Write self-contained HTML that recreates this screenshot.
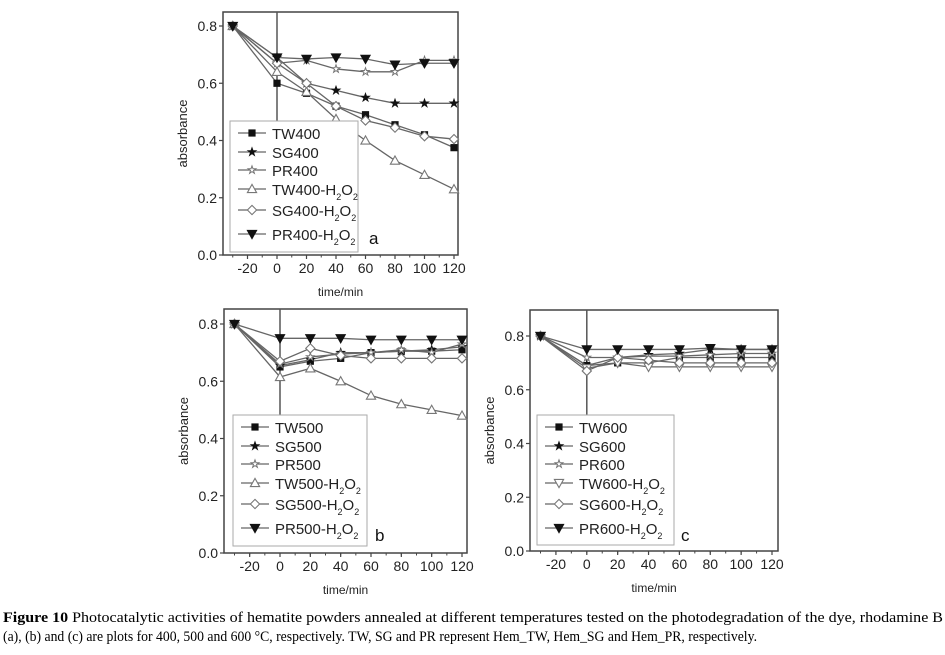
<!DOCTYPE html>
<html><head><meta charset="utf-8"><style>
body{margin:0;background:#fff;width:945px;height:655px;overflow:hidden}
svg{display:block}
.sans{font-family:"Liberation Sans",Arial,sans-serif}
.serif{font-family:"Liberation Serif",serif}
</style></head><body>
<svg id="fig" width="945" height="655" viewBox="0 0 945 655" xmlns="http://www.w3.org/2000/svg">
<g id="plots" class="sans"></g>
<text class="serif" x="3" y="622" font-size="15" textLength="940" lengthAdjust="spacingAndGlyphs"><tspan font-weight="bold">Figure 10</tspan> Photocatalytic activities of hematite powders annealed at different temperatures tested on the photodegradation of the dye, rhodamine B</text>
<text class="serif" x="3" y="641" font-size="15" textLength="754" lengthAdjust="spacingAndGlyphs">(a), (b) and (c) are plots for 400, 500 and 600 °C, respectively. TW, SG and PR represent Hem_TW, Hem_SG and Hem_PR, respectively.</text>
</svg>
<script>
const times = [-30, 0, 20, 40, 60, 80, 100, 120];
const xTicks = [-20, 0, 20, 40, 60, 80, 100, 120];
const yTicksAB = [0.0, 0.2, 0.4, 0.6, 0.8];
const markersA = ['sq', 'star', 'ostar', 'tri', 'dia', 'dtri'];
const markersC = ['sq', 'star', 'ostar', 'odtri', 'dia', 'dtri'];
const namesA = ['TW400', 'SG400', 'PR400', 'TW400-H2O2', 'SG400-H2O2', 'PR400-H2O2'];
const namesB = ['TW500', 'SG500', 'PR500', 'TW500-H2O2', 'SG500-H2O2', 'PR500-H2O2'];
const namesC = ['TW600', 'SG600', 'PR600', 'TW600-H2O2', 'SG600-H2O2', 'PR600-H2O2'];
const a_TW = [0.8, 0.60, 0.565, 0.52, 0.49, 0.455, 0.42, 0.375];
const a_SG = [0.8, 0.69, 0.60, 0.575, 0.55, 0.53, 0.53, 0.53];
const a_PR = [0.8, 0.67, 0.68, 0.65, 0.64, 0.64, 0.68, 0.68];
const a_TWH = [0.8, 0.64, 0.57, 0.475, 0.40, 0.33, 0.28, 0.23];
const a_SGH = [0.8, 0.67, 0.60, 0.52, 0.47, 0.445, 0.415, 0.405];
const a_PRH = [0.8, 0.69, 0.685, 0.69, 0.685, 0.665, 0.67, 0.67];
const b_TW = [0.8, 0.65, 0.67, 0.68, 0.70, 0.705, 0.705, 0.71];
const b_SG = [0.8, 0.655, 0.675, 0.70, 0.70, 0.705, 0.71, 0.72];
const b_PR = [0.8, 0.66, 0.685, 0.695, 0.70, 0.71, 0.70, 0.73];
const b_TWH = [0.8, 0.615, 0.645, 0.60, 0.55, 0.52, 0.50, 0.48];
const b_SGH = [0.8, 0.67, 0.715, 0.69, 0.68, 0.68, 0.68, 0.68];
const b_PRH = [0.8, 0.75, 0.75, 0.75, 0.745, 0.745, 0.745, 0.745];
const c_TW = [0.8, 0.69, 0.70, 0.70, 0.72, 0.72, 0.72, 0.72];
const c_SG = [0.8, 0.69, 0.72, 0.73, 0.735, 0.75, 0.75, 0.75];
const c_PR = [0.8, 0.72, 0.72, 0.725, 0.725, 0.73, 0.735, 0.735];
const c_TWH = [0.8, 0.68, 0.70, 0.685, 0.685, 0.685, 0.685, 0.685];
const c_SGH = [0.8, 0.67, 0.72, 0.71, 0.70, 0.70, 0.70, 0.70];
const c_PRH = [0.8, 0.75, 0.75, 0.75, 0.75, 0.755, 0.75, 0.75];

const NS = 'http://www.w3.org/2000/svg';
const root = document.getElementById('plots');
function mk(tag, attrs, parent) {
  const e = document.createElementNS(NS, tag);
  for (const k in attrs) e.setAttribute(k, attrs[k]);
  parent.appendChild(e);
  return e;
}
function marker(type, x, y, g) {
  const s = 3.6;
  let el;
  if (type === 'sq') el = mk('rect', {x: x - s, y: y - s, width: 2 * s, height: 2 * s, fill: '#111'}, g);
  else if (type === 'tri') el = mk('polygon', {points: `${x},${y - s - 1} ${x - s - 1},${y + s} ${x + s + 1},${y + s}`, fill: '#fff', stroke: '#777', 'stroke-width': 1.1}, g);
  else if (type === 'dtri' || type === 'odtri') el = mk('polygon', {points: `${x},${y + s + 1} ${x - s - 1},${y - s} ${x + s + 1},${y - s}`, fill: type === 'dtri' ? '#111' : '#fff', stroke: type === 'dtri' ? '#111' : '#777', 'stroke-width': 1.1}, g);
  else if (type === 'dia') el = mk('polygon', {points: `${x},${y - s - 1} ${x + s + 1},${y} ${x},${y + s + 1} ${x - s - 1},${y}`, fill: '#fff', stroke: '#777', 'stroke-width': 1.1}, g);
  else {
    let p = [];
    for (let i = 0; i < 10; i++) {
      const r = i % 2 ? s * 0.45 : s + 0.5;
      const a = -Math.PI / 2 + i * Math.PI / 5;
      p.push((x + r * Math.cos(a)).toFixed(1) + ',' + (y + r * Math.sin(a)).toFixed(1));
    }
    el = mk('polygon', {points: p.join(' '), fill: type === 'star' ? '#111' : '#fff', stroke: type === 'star' ? '#111' : '#777', 'stroke-width': 1}, g);
  }
  
  
}
function panel(cfg) {
  const g = mk('g', {}, root);
  
  
  const X = t => cfg.x0 + (t - (-30)) / 150 * (cfg.x120 - cfg.x0);
  const Y = v => cfg.y0 - v / 0.8 * (cfg.y0 - cfg.y08);
  const fr = mk('rect', {x: cfg.L, y: cfg.T, width: cfg.R - cfg.L, height: cfg.y0 - cfg.T, fill: 'none', stroke: '#444', 'stroke-width': 1.5}, g);
  
  
  const vl = mk('line', {x1: X(0), x2: X(0), y1: cfg.T, y2: cfg.legT, stroke: '#555', 'stroke-width': 1.5}, g);
  
  
  xTicks.forEach(t => {
    mk('line', {x1: X(t), x2: X(t), y1: cfg.y0, y2: cfg.y0 + 4, stroke: '#444', 'stroke-width': 1.2}, g);
    const tx = mk('text', {x: X(t), y: cfg.y0 + 18, 'text-anchor': 'middle', 'font-size': 14, fill: '#222'}, g);
    tx.textContent = t;
    
    
  });
  for (let t = -30; t <= 120; t += 10) mk('line', {x1: X(t), x2: X(t), y1: cfg.y0, y2: cfg.y0 + 2.5, stroke: '#444'}, g);
  cfg.yTicks.forEach(v => {
    mk('line', {x1: cfg.L - 4, x2: cfg.L, y1: Y(v), y2: Y(v), stroke: '#444', 'stroke-width': 1.2}, g);
    const ty = mk('text', {x: cfg.L - 6, y: Y(v) + 5, 'text-anchor': 'end', 'font-size': 14, fill: '#222'}, g);
    ty.textContent = v.toFixed(1);
    
    
  });
  const xt = mk('text', {x: (cfg.L + cfg.R) / 2, y: cfg.y0 + 41, 'text-anchor': 'middle', 'font-size': 12, fill: '#222'}, g);
  xt.textContent = 'time/min';
  
  
  const yc = (cfg.T + cfg.y0) / 2;
  const yt = mk('text', {x: cfg.L - 36, y: yc, 'text-anchor': 'middle', 'font-size': 13, fill: '#222', transform: `rotate(-90 ${cfg.L - 36} ${yc})`}, g);
  yt.textContent = 'absorbance';
  
  
  cfg.series.forEach((vals, i) => {
    const sg = mk('g', {}, g);
    
    
    mk('polyline', {points: vals.map((v, k) => X(times[k]) + ',' + Y(v)).join(' '), fill: 'none', stroke: '#666', 'stroke-width': 1.3}, sg);
    vals.forEach((v, k) => marker(cfg.markers[i], X(times[k]), Y(v), sg));
  });
  const lg = mk('g', {}, g);
  
  
  mk('rect', {x: cfg.legL, y: cfg.legT, width: cfg.legW, height: cfg.legH, fill: '#fff', stroke: '#aaa', 'stroke-width': 1}, lg);
  const rows = [0, 19, 37, 56, 77, 101];
  cfg.names.forEach((n, i) => {
    const ry = cfg.legT + 12 + rows[i];
    const mx = cfg.legL + 22;
    const e = mk('g', {}, lg);
    
    
    mk('line', {x1: mx - 14, x2: mx + 14, y1: ry, y2: ry, stroke: '#666', 'stroke-width': 1.3}, e);
    marker(cfg.markers[i], mx, ry, e);
    const t = mk('text', {x: mx + 20, y: ry + 6, 'font-size': 15, fill: '#222'}, e);
    if (n.endsWith('-H2O2')) {
      t.appendChild(document.createTextNode(n.replace('-H2O2', '-H')));
      const s1 = mk('tspan', {'font-size': 9, dy: 5}, t); s1.textContent = '2';
      const o = mk('tspan', {dy: -5}, t); o.textContent = 'O';
      const s2 = mk('tspan', {'font-size': 9, dy: 5}, t); s2.textContent = '2';
    } else t.textContent = n;
  });
  const lb = mk('text', {x: cfg.labX, y: cfg.labY, 'font-size': 17, fill: '#111'}, g);
  lb.textContent = cfg.label;
  
  
}
panel({label: 'a', L: 223, R: 458, T: 12, y0: 255, y08: 26, x0: 232.75, x120: 454, yTicks: yTicksAB,
  legL: 230, legT: 121, legW: 128, legH: 131, names: namesA, markers: markersA,
  series: [a_TW, a_SG, a_PR, a_TWH, a_SGH, a_PRH], labX: 369, labY: 244});
panel({label: 'b', L: 224, R: 467, T: 309, y0: 553, y08: 324, x0: 234.5, x120: 462, yTicks: yTicksAB,
  legL: 233, legT: 415, legW: 134, legH: 131, names: namesB, markers: markersA,
  series: [b_TW, b_SG, b_PR, b_TWH, b_SGH, b_PRH], labX: 375, labY: 541});
panel({label: 'c', L: 530, R: 778, T: 310, y0: 551, y08: 336, x0: 540.5, x120: 772, yTicks: [0.0, 0.2, 0.4, 0.6, 0.8],
  legL: 537, legT: 415, legW: 137, legH: 130, names: namesC, markers: markersC,
  series: [c_TW, c_SG, c_PR, c_TWH, c_SGH, c_PRH], labX: 681, labY: 541});
</script>
</body></html>
